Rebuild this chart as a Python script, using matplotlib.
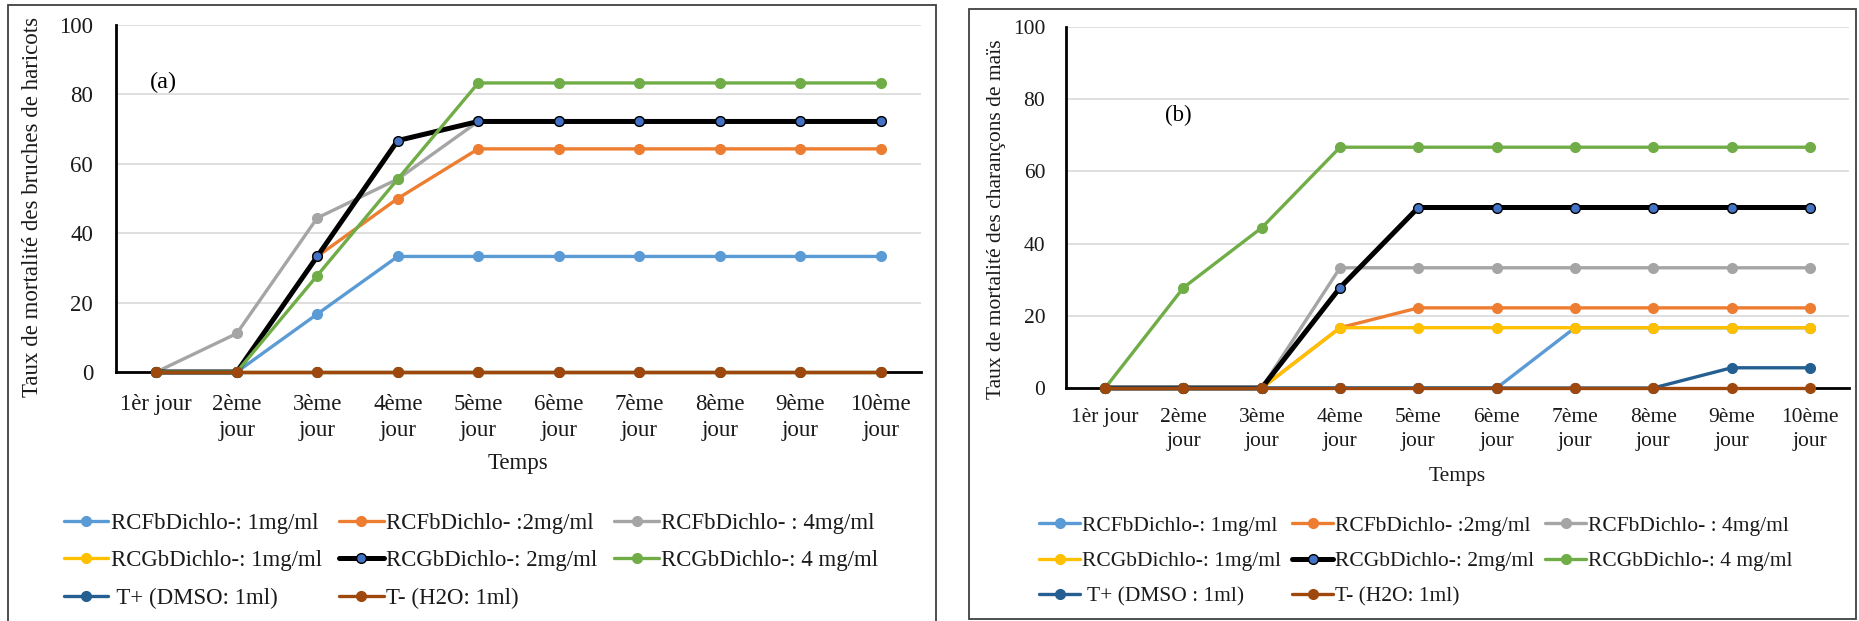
import matplotlib
matplotlib.use("Agg")
import matplotlib.pyplot as plt
from matplotlib.patches import Rectangle

plt.rcParams['font.family'] = ['Liberation Serif', 'DejaVu Serif']

# ---------------- data ----------------
days = ["1èr jour", "2ème\njour", "3ème\njour", "4ème\njour", "5ème\njour",
        "6ème\njour", "7ème\njour", "8ème\njour", "9ème\njour", "10ème\njour"]

# Panel (a): bruches de haricots
a_rcfb_1 = [0, 0, 16.7, 33.3, 33.3, 33.3, 33.3, 33.3, 33.3, 33.3]
a_rcfb_2 = [0, 0, 33.3, 50.0, 64.3, 64.3, 64.3, 64.3, 64.3, 64.3]
a_rcfb_4 = [0, 11.1, 44.4, 55.6, 72.2, 72.2, 72.2, 72.2, 72.2, 72.2]
a_rcgb_1 = [0, 0, 0, 0, 0, 0, 0, 0, 0, 0]
a_rcgb_2 = [0, 0, 33.3, 66.7, 72.2, 72.2, 72.2, 72.2, 72.2, 72.2]
a_rcgb_4 = [0, 0, 27.8, 55.6, 83.3, 83.3, 83.3, 83.3, 83.3, 83.3]
a_tplus = [0, 0, 0, 0, 0, 0, 0, 0, 0, 0]
a_tminus = [0, 0, 0, 0, 0, 0, 0, 0, 0, 0]

# Panel (b): charançons de maïs
b_rcfb_1 = [0, 0, 0, 0, 0, 0, 16.7, 16.7, 16.7, 16.7]
b_rcfb_2 = [0, 0, 0, 16.7, 22.2, 22.2, 22.2, 22.2, 22.2, 22.2]
b_rcfb_4 = [0, 0, 0, 33.3, 33.3, 33.3, 33.3, 33.3, 33.3, 33.3]
b_rcgb_1 = [0, 0, 0, 16.7, 16.7, 16.7, 16.7, 16.7, 16.7, 16.7]
b_rcgb_2 = [0, 0, 0, 27.8, 50.0, 50.0, 50.0, 50.0, 50.0, 50.0]
b_rcgb_4 = [0, 27.8, 44.4, 66.7, 66.7, 66.7, 66.7, 66.7, 66.7, 66.7]
b_tplus = [0, 0, 0, 0, 0, 0, 0, 0, 5.6, 5.6]
b_tminus = [0, 0, 0, 0, 0, 0, 0, 0, 0, 0]

labels_a = ["RCFbDichlo-: 1mg/ml", "RCFbDichlo- :2mg/ml", "RCFbDichlo- : 4mg/ml",
            "RCGbDichlo-: 1mg/ml", "RCGbDichlo-: 2mg/ml", "RCGbDichlo-: 4 mg/ml",
            " T+ (DMSO: 1ml)", "T- (H2O: 1ml)"]
labels_b = ["RCFbDichlo-: 1mg/ml", "RCFbDichlo- :2mg/ml", "RCFbDichlo- : 4mg/ml",
            "RCGbDichlo-: 1mg/ml", "RCGbDichlo-: 2mg/ml", "RCGbDichlo-: 4 mg/ml",
            " T+ (DMSO : 1ml)", "T- (H2O: 1ml)"]

ylabel_a = "Taux de mortalité des bruches de haricots"
ylabel_b = "Taux de mortalité des charançons de maïs"
yticks = [0, 20, 40, 60, 80, 100]

# ---------------- styles ----------------
line_colors = ["#5B9BD5", "#ED7D31", "#A5A5A5", "#FFC000", "#000000", "#70AD47", "#255E91", "#9E480E"]
marker_faces = ["#5B9BD5", "#ED7D31", "#A5A5A5", "#FFC000", "#4472C4", "#70AD47", "#255E91", "#9E480E"]
line_widths = [2.4, 2.4, 2.4, 2.4, 3.6, 2.4, 2.4, 2.4]

W, H = 1859, 621
fig = plt.figure(figsize=(W / 100, H / 100), dpi=100)

# panel boxes
fig.patches.append(Rectangle((8 / W, -0.05), (936 - 8) / W, 1 - 5 / H + 0.05,
                             transform=fig.transFigure, fill=False,
                             edgecolor="#404040", linewidth=1.3))
fig.patches.append(Rectangle((969 / W, 1 - 619 / H), (1856 - 969) / W, (619 - 9) / H,
                             transform=fig.transFigure, fill=False,
                             edgecolor="#404040", linewidth=1.3))

TXT = "#1a1a1a"


def make_panel(rect_px, series, labels, ylabel, tag, tag_xy, xlabel_xy, ylabel_xy,
               legend_xy, fs, xpad, ypad, lsp, hlen, colsp):
    x0, y0, x1, y1 = rect_px  # pixel: left, top(100), right, bottom(0)
    ax = fig.add_axes([x0 / W, 1 - y1 / H, (x1 - x0) / W, (y1 - y0) / H])
    xs = list(range(len(days)))
    handles = []
    for i, ys in enumerate(series):
        h, = ax.plot(xs, ys, color=line_colors[i], lw=line_widths[i], marker="o",
                     markersize=7, markerfacecolor=marker_faces[i],
                     markeredgecolor=line_colors[i], markeredgewidth=1.0,
                     clip_on=False, zorder=3 + i, solid_capstyle="round",
                     label=labels[i])
        handles.append(h)
    ax.set_xlim(-0.5, len(days) - 0.5)
    ax.set_ylim(0, 100)
    ax.set_yticks(yticks)
    ax.set_xticks(xs)
    ax.set_xticklabels(days, fontsize=fs, color=TXT, linespacing=lsp)
    ax.set_yticklabels([str(v) for v in yticks], fontsize=fs, color=TXT)
    ax.tick_params(axis="x", length=0, pad=xpad)
    ax.tick_params(axis="y", length=0, pad=ypad)
    ax.grid(axis="y", color="#D9D9D9", lw=1.2, zorder=0)
    ax.set_axisbelow(True)
    for s in ["top", "right"]:
        ax.spines[s].set_visible(False)
    ax.spines["left"].set_color("black")
    ax.spines["left"].set_linewidth(2.0)
    ax.spines["bottom"].set_color("black")
    ax.spines["bottom"].set_linewidth(2.0)

    ax.set_xlabel("Temps", fontsize=fs, color=TXT)
    ax.xaxis.label.set_va("center")
    ax.xaxis.set_label_coords((xlabel_xy[0] - x0) / (x1 - x0), (y1 - xlabel_xy[1]) / (y1 - y0))
    ax.set_ylabel(ylabel, fontsize=fs, color=TXT)
    ax.yaxis.label.set_va("center")
    ax.yaxis.set_label_coords((ylabel_xy[0] - x0) / (x1 - x0), (y1 - ylabel_xy[1]) / (y1 - y0))

    ax.text((tag_xy[0] - x0) / (x1 - x0), (y1 - tag_xy[1]) / (y1 - y0), tag,
            transform=ax.transAxes, fontsize=fs + 1, color="black", ha="center", va="center")

    # legend, row-major order like the original (matplotlib fills column-wise)
    order = [0, 3, 6, 1, 4, 7, 2, 5]
    leg = ax.legend([handles[k] for k in order], [labels[k] for k in order],
                    ncol=3, loc="center",
                    bbox_to_anchor=((legend_xy[0] - x0) / (x1 - x0), (y1 - legend_xy[1]) / (y1 - y0)),
                    frameon=False, fontsize=fs, handlelength=hlen, handletextpad=0.1,
                    columnspacing=colsp, labelspacing=0.7, borderpad=0)
    for t in leg.get_texts():
        t.set_color(TXT)
    return ax


series_a = [a_rcfb_1, a_rcfb_2, a_rcfb_4, a_rcgb_1, a_rcgb_2, a_rcgb_4, a_tplus, a_tminus]
series_b = [b_rcfb_1, b_rcfb_2, b_rcfb_4, b_rcgb_1, b_rcgb_2, b_rcgb_4, b_tplus, b_tminus]

make_panel((116, 25, 921, 372), series_a, labels_a, ylabel_a, "(a)", (163, 82),
           (518, 463), (33, 207), (471, 561),
           fs=16.5, xpad=15.5, ypad=16.5, lsp=1.35, hlen=1.95, colsp=0.75)
make_panel((1066, 27, 1849, 388), series_b, labels_b, ylabel_b, "(b)", (1178, 115),
           (1457, 477), (996, 219), (1416, 561),
           fs=15.5, xpad=14.5, ypad=15, lsp=1.33, hlen=1.9, colsp=0.5)

fig.savefig("out.png", dpi=100)
